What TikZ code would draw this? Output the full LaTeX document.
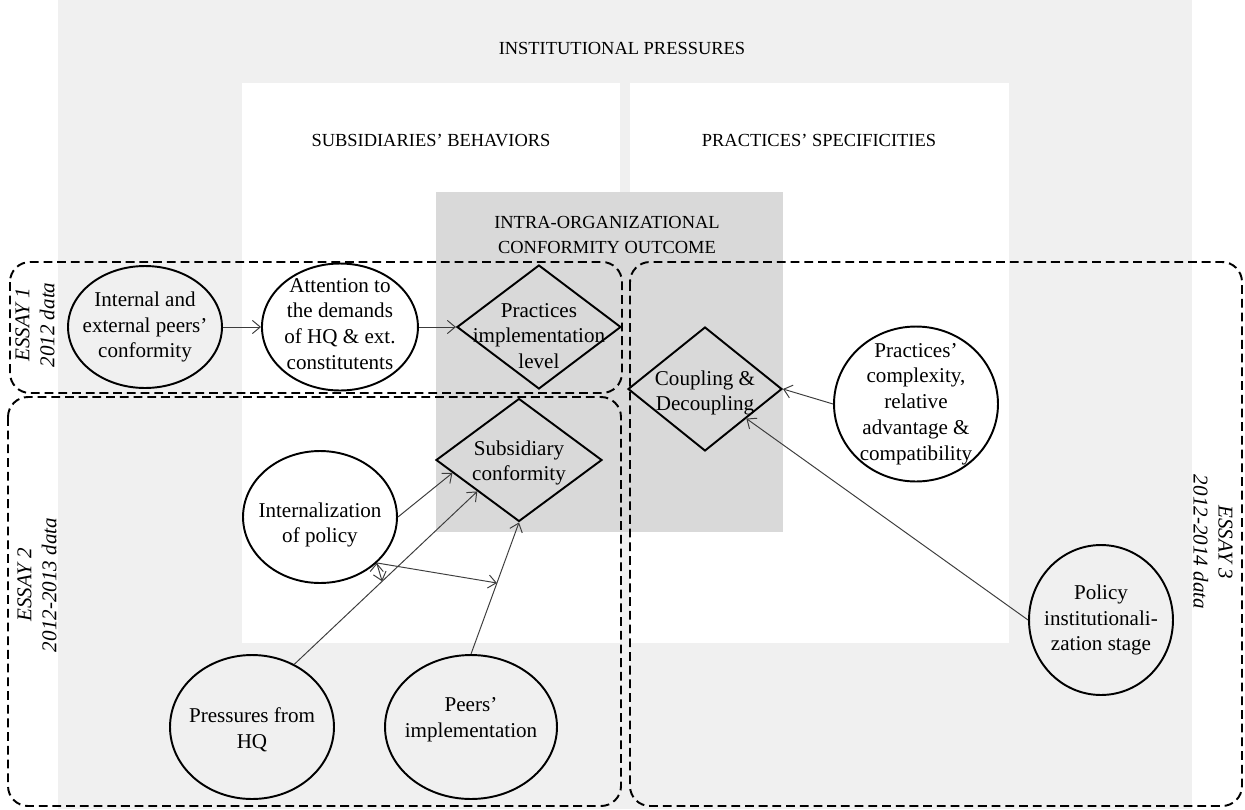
\documentclass[tikz,border=0pt]{standalone}
\usepackage{fontspec}
\setmainfont{Liberation Serif}
\usetikzlibrary{arrows.meta,shapes.geometric,calc}
\definecolor{outergray}{RGB}{240,240,240}
\definecolor{innergray}{RGB}{217,217,217}
\definecolor{linkgray}{RGB}{60,60,60}

\begin{document}
\begin{tikzpicture}[x=0.02cm,y=-0.02cm,
  >={Straight Barb[length=4.5pt,width=7.5pt]},
  link/.style={->,draw=linkgray,line width=0.55pt},
  essay/.style={draw,line width=1.1pt,dash pattern=on 5pt off 2.8pt,rounded corners=0.4cm},
  bubble/.style={ellipse,draw,line width=1.1pt,inner sep=0pt},
  choice/.style={diamond,draw,line width=1.1pt,inner sep=0pt},
  txt/.style={align=center,font=\fontsize{12}{14.7}\selectfont,inner sep=0pt},
  head/.style={align=center,font=\fontsize{10.5}{14.2}\selectfont,inner sep=0pt},
  tag/.style={align=center,font=\fontsize{12}{14.2}\selectfont\itshape,inner sep=0pt}]

  \useasboundingbox (0,0) rectangle (1245,809);
  % panels
  \fill[outergray] (58,0) rectangle (1192,809);
  \fill[white] (242,83) rectangle (620,643);
  \fill[white] (630,83) rectangle (1009,643);
  \fill[innergray] (436,192) rectangle (783,532);

  \node[head] (inst) at (622,48) {INSTITUTIONAL PRESSURES};
  \node[head] (behav) at (431,140) {SUBSIDIARIES' BEHAVIORS};
  \node[head] (specif) at (819,140) {PRACTICES' SPECIFICITIES};
  \node[head] (outcome) at (607,235) {INTRA-ORGANIZATIONAL\\CONFORMITY OUTCOME};

  % essays
  \draw[essay] (10,262) rectangle (622,393);
  \draw[essay] (8,397) rectangle (621,806);
  \draw[essay] (630,262) rectangle (1242,806);
  \node[tag,rotate=90] (essay1) at (35,325) {ESSAY 1\\2012 data};
  \node[tag,rotate=90] (essay2) at (37,585) {ESSAY 2\\2012-2013 data};
  \node[tag,rotate=-90] (essay3) at (1213,542) {ESSAY 3\\2012-2014 data};

  % shapes
  \node[bubble,minimum width=3.08cm,minimum height=2.44cm] (intext) at (145,327) {};
  \node[bubble,minimum width=3.12cm,minimum height=2.54cm] (attn) [right of=intext,node distance=3.9cm] {};
  \node[choice,minimum width=3.28cm,minimum height=2.48cm] (impl) [right of=attn,node distance=3.98cm] {};
  \node[choice,minimum width=3.08cm,minimum height=2.48cm] (coupl) at (705,389) {};
  \node[choice,minimum width=3.32cm,minimum height=2.46cm] (subs) at (519,460) {};
  \node[bubble,minimum width=3.08cm,minimum height=2.64cm] (intpol) at (320,517) {};
  \node[bubble,minimum width=3.28cm,minimum height=2.88cm] (hq) at (252,727) {};
  \node[bubble,minimum width=3.44cm,minimum height=2.88cm] (peers) at (471,727) {};
  \node[bubble,minimum width=3.28cm,minimum height=3.1cm] (cmplx) at (916,404) {};
  \node[bubble,minimum width=2.88cm,minimum height=3.0cm] (policy) at (1101,620) {};

  % texts
  \node[txt] (intextt) at (intext) {Internal and\\external peers'\\conformity};
  \node[txt] (attnt) at ($(attn)+(0,-3)$) {Attention to\\the demands\\of HQ \& ext.\\constitutents};
  \node[txt] (implt) at ($(impl)+(0,9)$) {Practices\\implementation\\level};
  \node[txt] (couplt) at ($(coupl)+(0,4)$) {Coupling \&\\Decoupling};
  \node[txt] (subst) at ($(subs)+(0,3)$) {Subsidiary\\conformity};
  \node[txt] (intpolt) at ($(intpol)+(0,8)$) {Internalization\\of policy};
  \node[txt] (hqt) at ($(hq)+(0,3)$) {Pressures from\\HQ};
  \node[txt] (peerst) at ($(peers)+(0,-7)$) {Peers'\\implementation};
  \node[txt] (cmplxt) at (cmplx) {Practices'\\complexity,\\relative\\advantage \&\\compatibility};
  \node[txt] (policyt) at (policy) {Policy\\institutionali-\\zation stage};

  % moderation ends
  \coordinate (modsrc) at (intpol.321);
  \coordinate (onhq) at ($(hq.56)!0.48!(subs.217)$);
  \coordinate (onpeers) at ($(peers.north)!0.54!(subs.south)$);

  \path[link]
    (intext) edge (attn)
    (attn) edge (impl)
    (cmplx.west) edge (coupl.east)
    (policy.west) edge (coupl)
    (intpol.east) edge (subs.191)
    (hq.56) edge (subs.217)
    (peers.north) edge (subs.south)
    (modsrc) edge (onhq)
    (modsrc) edge (onpeers);
\end{tikzpicture}
\end{document}
